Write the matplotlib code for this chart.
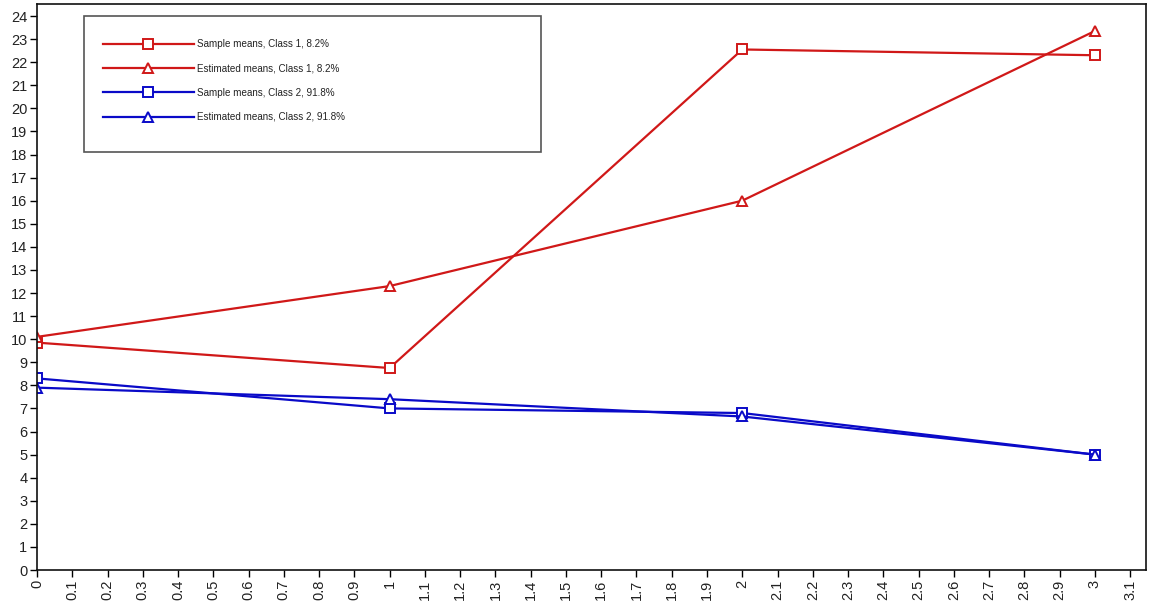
import matplotlib
matplotlib.use("Agg")
import matplotlib.pyplot as plt
from matplotlib.patches import Rectangle
import numpy as np

plt.rcParams['font.family'] = ['Liberation Sans', 'DejaVu Sans']

x = [0, 1, 2, 3]
sample_c1 = [9.85, 8.75, 22.55, 22.3]
estimated_c1 = [10.1, 12.3, 16.0, 23.35]
sample_c2 = [8.3, 7.0, 6.8, 5.0]
estimated_c2 = [7.9, 7.4, 6.65, 5.0]

labels = ["Sample means, Class 1, 8.2%", "Estimated means, Class 1, 8.2%",
          "Sample means, Class 2, 91.8%", "Estimated means, Class 2, 91.8%"]

red = '#d01818'
blue = '#0a0ac8'

fig = plt.figure(figsize=(11.49, 6.08), dpi=100)
ax = fig.add_axes([37/1149, 38/608, (1146-37)/1149, (570-4)/608])

lw = 1.6
ms = 6.5
ax.plot(x, sample_c1, color=red, lw=lw, marker='s', ms=ms, mfc='white', mec=red, mew=1.4, label=labels[0])
ax.plot(x, estimated_c1, color=red, lw=lw, marker='^', ms=ms, mfc='white', mec=red, mew=1.4, label=labels[1])
ax.plot(x, sample_c2, color=blue, lw=lw, marker='s', ms=ms, mfc='white', mec=blue, mew=1.4, label=labels[2])
ax.plot(x, estimated_c2, color=blue, lw=lw, marker='^', ms=ms, mfc='white', mec=blue, mew=1.4, label=labels[3])

ax.set_xlim(0, 3.145)
ax.set_ylim(0, 24.52)
ax.set_yticks(np.arange(0, 25, 1))
xt = np.round(np.arange(0, 3.15, 0.1), 1)
ax.set_xticks(xt)
ax.set_xticklabels([f"{v:g}" for v in xt], rotation=90)
ax.tick_params(axis='both', direction='out', length=5, width=1, labelsize=10.5,
               labelcolor='#222222', pad=2)
for s in ax.spines.values():
    s.set_linewidth(1.2)
    s.set_color('#111111')

# legend frame
ax.add_patch(Rectangle((0.0424, 0.7385), 0.4121, 0.2403, transform=ax.transAxes,
                       fill=False, ec='#555555', lw=1.2, zorder=5))
leg = ax.legend(loc='upper left', bbox_to_anchor=(0.0595, 0.938), frameon=False,
                fontsize=7.1, handlelength=9.2, handletextpad=0.3, labelspacing=1.45,
                borderpad=0, borderaxespad=0)
for t in leg.get_texts():
    t.set_color('#222222')

fig.savefig('out.png', dpi=100)
